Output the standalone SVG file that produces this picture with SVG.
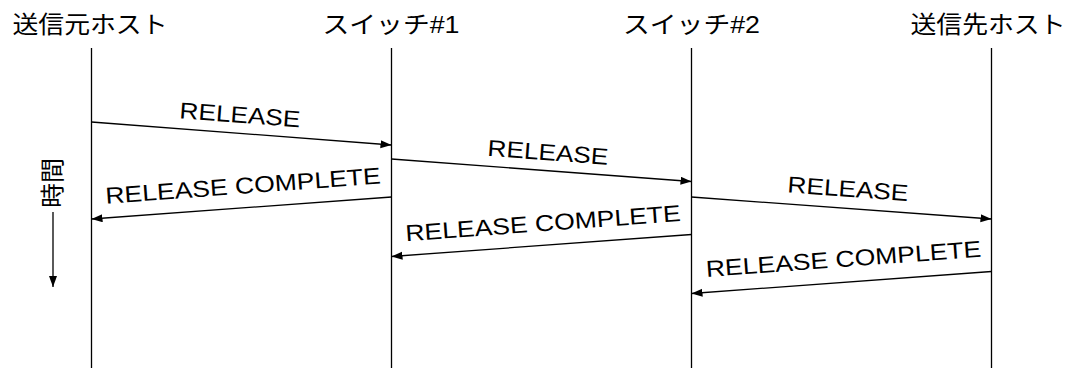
<svg xmlns="http://www.w3.org/2000/svg" width="1071" height="368" viewBox="0 0 1071 368">
<style>
.hdr{font-family:"Liberation Sans","Noto Sans CJK JP",sans-serif;font-size:24px;fill:#000;text-anchor:middle}
.lbl{font-family:"Liberation Sans",Arial,sans-serif;font-size:23px;fill:#000;text-anchor:middle}
.life{stroke:#000;stroke-width:1.3;fill:none}
.msg{stroke:#000;stroke-width:1.3;fill:none;marker-end:url(#ah)}
</style>
<defs>
<marker id="ah" markerUnits="userSpaceOnUse" markerWidth="12" markerHeight="9" refX="11" refY="4" orient="auto">
<path d="M0,0 L11,4 L0,8 Z" fill="#000"/>
</marker>
</defs>
<rect width="1071" height="368" fill="#fff"/>
<g id="src-host">
<text class="hdr" x="90" y="32.5" textLength="155" lengthAdjust="spacingAndGlyphs">送信元ホスト</text>
<line class="life" x1="91.5" y1="48" x2="91.5" y2="368"/>
</g>
<g id="switch1">
<text class="hdr" x="391" y="32.5" textLength="137" lengthAdjust="spacingAndGlyphs">スイッチ#1</text>
<line class="life" x1="391.5" y1="48" x2="391.5" y2="368"/>
</g>
<g id="switch2">
<text class="hdr" x="691.5" y="32.5" textLength="137" lengthAdjust="spacingAndGlyphs">スイッチ#2</text>
<line class="life" x1="691.5" y1="48" x2="691.5" y2="368"/>
</g>
<g id="dst-host">
<text class="hdr" x="988" y="32.5" textLength="155" lengthAdjust="spacingAndGlyphs">送信先ホスト</text>
<line class="life" x1="991.5" y1="48" x2="991.5" y2="368"/>
</g>
<g id="time">
<text class="hdr" transform="translate(61,183) rotate(-90)" x="0" y="0" textLength="50" lengthAdjust="spacingAndGlyphs">時間</text>
<line class="msg" x1="53" y1="212" x2="53" y2="287"/>
</g>
<g id="connectors">
<line class="msg" x1="91.5" y1="122" x2="391.5" y2="145"/>
<line class="msg" x1="391.5" y1="159" x2="691.5" y2="181.5"/>
<line class="msg" x1="691.5" y1="197" x2="991.5" y2="219"/>
<line class="msg" x1="391.5" y1="197" x2="91.5" y2="219"/>
<line class="msg" x1="691.5" y1="234.5" x2="391.5" y2="256.5"/>
<line class="msg" x1="991.5" y1="271.5" x2="691.5" y2="293.5"/>
<text class="lbl" transform="translate(240,114.5) rotate(4.3)" x="0" y="8.2" textLength="121" lengthAdjust="spacingAndGlyphs">RELEASE</text>
<text class="lbl" transform="translate(548,152) rotate(4.3)" x="0" y="8.2" textLength="121" lengthAdjust="spacingAndGlyphs">RELEASE</text>
<text class="lbl" transform="translate(848,188.5) rotate(4.2)" x="0" y="8.2" textLength="121" lengthAdjust="spacingAndGlyphs">RELEASE</text>
<text class="lbl" transform="translate(243,185.5) rotate(-4.2)" x="0" y="8.2" textLength="276" lengthAdjust="spacingAndGlyphs">RELEASE COMPLETE</text>
<text class="lbl" transform="translate(543,223) rotate(-4.2)" x="0" y="8.2" textLength="276" lengthAdjust="spacingAndGlyphs">RELEASE COMPLETE</text>
<text class="lbl" transform="translate(843.5,258.7) rotate(-4.2)" x="0" y="8.2" textLength="276" lengthAdjust="spacingAndGlyphs">RELEASE COMPLETE</text>
</g>
</svg>
